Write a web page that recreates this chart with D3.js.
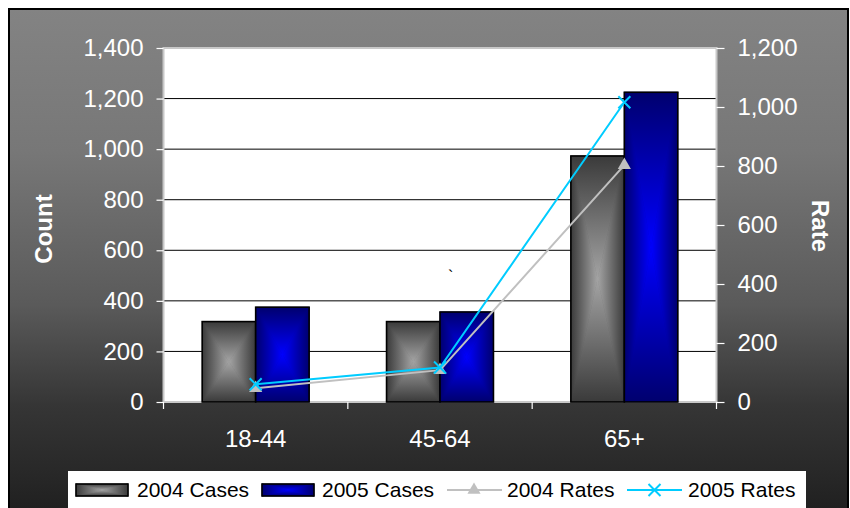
<!DOCTYPE html>
<html>
<head>
<meta charset="utf-8">
<script src="https://cdn.jsdelivr.net/npm/d3@7"></script>
<style>
  html, body { margin: 0; padding: 0; background: #ffffff; }
  svg { display: block; }
  text { font-family: "Liberation Sans", Arial, sans-serif; }
</style>
</head>
<body>
<svg id="chart" width="850" height="508"></svg>
<script>
// Age groups and yearly figures
const categories = ["18-44", "45-64", "65+"];
const cases2004 = [318, 318, 973];
const cases2005 = [375, 356, 1225];
const rates2004 = [47, 108, 803];
const rates2005 = [60, 117, 1016];
const countTicks = [0, 200, 400, 600, 800, 1000, 1200, 1400];
const rateTicks = [0, 200, 400, 600, 800, 1000, 1200];
const legendLabels = ["2004 Cases", "2005 Cases", "2004 Rates", "2005 Rates"];

const W = 850, H = 508;
const plot = { left: 163.5, right: 716.5, top: 48, bottom: 402 };

const svg = d3.select("#chart");
const defs = svg.append("defs");

// Background: dark vertical gradient
const bg = defs.append("linearGradient").attr("id", "bgGrad")
  .attr("x1", 0).attr("y1", 0).attr("x2", 0).attr("y2", 1);
[[0, "#838383"], [0.28, "#777777"], [0.58, "#5a5a5a"], [0.78, "#353535"], [0.92, "#272727"], [1, "#1e1e1e"]]
  .forEach(([o, c]) => bg.append("stop").attr("offset", o).attr("stop-color", c));

svg.append("rect")
  .attr("x", 9).attr("y", 9).attr("width", 839).attr("height", 510)
  .attr("fill", "url(#bgGrad)").attr("stroke", "#000").attr("stroke-width", 2);

// Edge-to-centre gradients used for the bar fills
const barPalettes = {
  g04: { edge: "#3a3a3a", centre: "#a4a4a4" },
  g05: { edge: "#00006e", centre: "#0000ff" }
};
const dirs = {
  top:    { x1: 0, y1: 0, x2: 0, y2: 1 },
  bottom: { x1: 0, y1: 1, x2: 0, y2: 0 },
  left:   { x1: 0, y1: 0, x2: 1, y2: 0 },
  right:  { x1: 1, y1: 0, x2: 0, y2: 0 }
};
Object.entries(barPalettes).forEach(([key, p]) => {
  Object.entries(dirs).forEach(([d, v]) => {
    const g = defs.append("linearGradient").attr("id", key + "-" + d)
      .attr("x1", v.x1).attr("y1", v.y1).attr("x2", v.x2).attr("y2", v.y2);
    g.append("stop").attr("offset", 0).attr("stop-color", p.edge);
    g.append("stop").attr("offset", 1).attr("stop-color", p.centre);
  });
});

// Draws a rectangle shaded from its edges towards a lighter centre point
function shadedRect(parent, x, y, w, h, key) {
  const g = parent.append("g");
  const cxm = x + w / 2, cym = y + h / 2;
  g.append("rect").attr("x", x).attr("y", y).attr("width", w).attr("height", h)
    .attr("fill", barPalettes[key].edge);
  const polys = {
    top:    [[x, y], [x + w, y], [cxm, cym]],
    bottom: [[x, y + h], [x + w, y + h], [cxm, cym]],
    left:   [[x, y], [cxm, cym], [x, y + h]],
    right:  [[x + w, y], [cxm, cym], [x + w, y + h]]
  };
  Object.entries(polys).forEach(([k, pts]) => {
    g.append("polygon").attr("points", pts.map(p => p.join(",")).join(" "))
      .attr("fill", `url(#${key}-${k})`)
      .attr("stroke", `url(#${key}-${k})`).attr("stroke-width", 0.6)
      .attr("stroke-linejoin", "round");
  });
  g.append("rect").attr("x", x).attr("y", y).attr("width", w).attr("height", h)
    .attr("fill", "none").attr("stroke", "#000").attr("stroke-width", 1.6);
  return g;
}

// Scales
const x = d3.scaleBand().domain(categories).range([plot.left, plot.right])
  .paddingInner(0.42).paddingOuter(0.21);
const yCount = d3.scaleLinear().domain([0, 1400]).range([plot.bottom, plot.top]);
const yRate = d3.scaleLinear().domain([0, 1200]).range([plot.bottom, plot.top]);

// Plot area
svg.append("rect")
  .attr("x", plot.left).attr("y", plot.top)
  .attr("width", plot.right - plot.left).attr("height", plot.bottom - plot.top)
  .attr("fill", "#fff");

// Gridlines
svg.append("g").selectAll("line")
  .data(countTicks.filter(t => t > 0 && t < 1400))
  .join("line")
  .attr("x1", plot.left).attr("x2", plot.right)
  .attr("y1", d => yCount(d)).attr("y2", d => yCount(d))
  .attr("stroke", "#000").attr("stroke-width", 1);

// Plot frame
svg.append("rect")
  .attr("x", plot.left).attr("y", plot.top)
  .attr("width", plot.right - plot.left).attr("height", plot.bottom - plot.top)
  .attr("fill", "none").attr("stroke", "#c8c8c8").attr("stroke-width", 2);

// Bars
const bars = svg.append("g");
const half = x.bandwidth() / 2;
categories.forEach((c, i) => {
  const x0 = x(c);
  shadedRect(bars, x0, yCount(cases2004[i]), half, plot.bottom - yCount(cases2004[i]), "g04");
  shadedRect(bars, x0 + half, yCount(cases2005[i]), half, plot.bottom - yCount(cases2005[i]), "g05");
});

// Rate lines
const cx = c => x(c) + x.bandwidth() / 2;
const line = d3.line().x(d => cx(d.c)).y(d => yRate(d.v));
const r04 = categories.map((c, i) => ({ c, v: rates2004[i] }));
const r05 = categories.map((c, i) => ({ c, v: rates2005[i] }));

svg.append("path").datum(r04).attr("d", line)
  .attr("fill", "none").attr("stroke", "#c0c0c0").attr("stroke-width", 2);
svg.append("g").selectAll("path").data(r04).join("path")
  .attr("transform", d => `translate(${cx(d.c)},${yRate(d.v)})`)
  .attr("d", d3.symbol().type(d3.symbolTriangle).size(75))
  .attr("fill", "#c0c0c0");

svg.append("path").datum(r05).attr("d", line)
  .attr("fill", "none").attr("stroke", "#00ccff").attr("stroke-width", 2);
const xMark = "M-6,-6L6,6M-6,6L6,-6";
svg.append("g").selectAll("path").data(r05).join("path")
  .attr("transform", d => `translate(${cx(d.c)},${yRate(d.v)})`)
  .attr("d", xMark).attr("fill", "none")
  .attr("stroke", "#00ccff").attr("stroke-width", 2);

// Axes
function styleAxis(g) {
  g.select(".domain").remove();
  g.selectAll(".tick line").attr("stroke", "#fff").attr("stroke-width", 1.2);
  g.selectAll(".tick text").attr("fill", "#fff")
    .style("font-family", '"Liberation Sans", Arial, sans-serif')
    .style("font-size", "24px");
}

svg.append("g").attr("transform", `translate(${plot.left},0)`)
  .call(d3.axisLeft(yCount).tickValues(countTicks).tickFormat(d3.format(","))
    .tickSize(7).tickSizeOuter(0).tickPadding(13))
  .call(styleAxis);

svg.append("g").attr("transform", `translate(${plot.right},0)`)
  .call(d3.axisRight(yRate).tickValues(rateTicks).tickFormat(d3.format(","))
    .tickSize(8).tickSizeOuter(0).tickPadding(13))
  .call(styleAxis);

svg.append("g").attr("transform", `translate(0,${plot.bottom})`)
  .call(d3.axisBottom(x).tickSize(0).tickPadding(28))
  .call(styleAxis);

// Category boundary ticks
const step = x.step();
svg.append("g").selectAll("line").data(d3.range(categories.length + 1)).join("line")
  .attr("x1", i => plot.left + i * step).attr("x2", i => plot.left + i * step)
  .attr("y1", plot.bottom).attr("y2", plot.bottom + 7)
  .attr("stroke", "#fff").attr("stroke-width", 1.2);

// Axis titles
svg.append("text")
  .attr("transform", "translate(52,229) rotate(-90)")
  .attr("text-anchor", "middle").attr("fill", "#fff")
  .style("font-size", "24px").style("font-weight", "bold")
  .text("Count");
svg.append("text")
  .attr("transform", "translate(812,226) rotate(90)")
  .attr("text-anchor", "middle").attr("fill", "#fff")
  .style("font-size", "24px").style("font-weight", "bold")
  .text("Rate");

// Small stray mark inside the plot
svg.append("text").attr("x", 448).attr("y", 282)
  .attr("fill", "#000").style("font-size", "16px").text("`");

// Legend
const legend = svg.append("g");
legend.append("rect").attr("x", 68).attr("y", 471).attr("width", 738).attr("height", 45)
  .attr("fill", "#fff");
const lgY = 490;
shadedRect(legend, 76, 484, 52, 12, "g04");
shadedRect(legend, 262, 484, 52, 12, "g05");
legend.append("line").attr("x1", 447).attr("x2", 502).attr("y1", lgY).attr("y2", lgY)
  .attr("stroke", "#c0c0c0").attr("stroke-width", 2);
legend.append("path").attr("transform", `translate(474,${lgY})`)
  .attr("d", d3.symbol().type(d3.symbolTriangle).size(75)).attr("fill", "#c0c0c0");
legend.append("line").attr("x1", 627).attr("x2", 682).attr("y1", lgY).attr("y2", lgY)
  .attr("stroke", "#00ccff").attr("stroke-width", 2);
legend.append("path").attr("transform", `translate(654.5,${lgY})`)
  .attr("d", xMark).attr("fill", "none").attr("stroke", "#00ccff").attr("stroke-width", 2);

const legendX = [137, 322, 507, 688];
legend.selectAll("text.lg").data(legendLabels).join("text")
  .attr("class", "lg")
  .attr("x", (d, i) => legendX[i]).attr("y", 497)
  .attr("fill", "#000").style("font-size", "21px")
  .text(d => d);
</script>
</body>
</html>
